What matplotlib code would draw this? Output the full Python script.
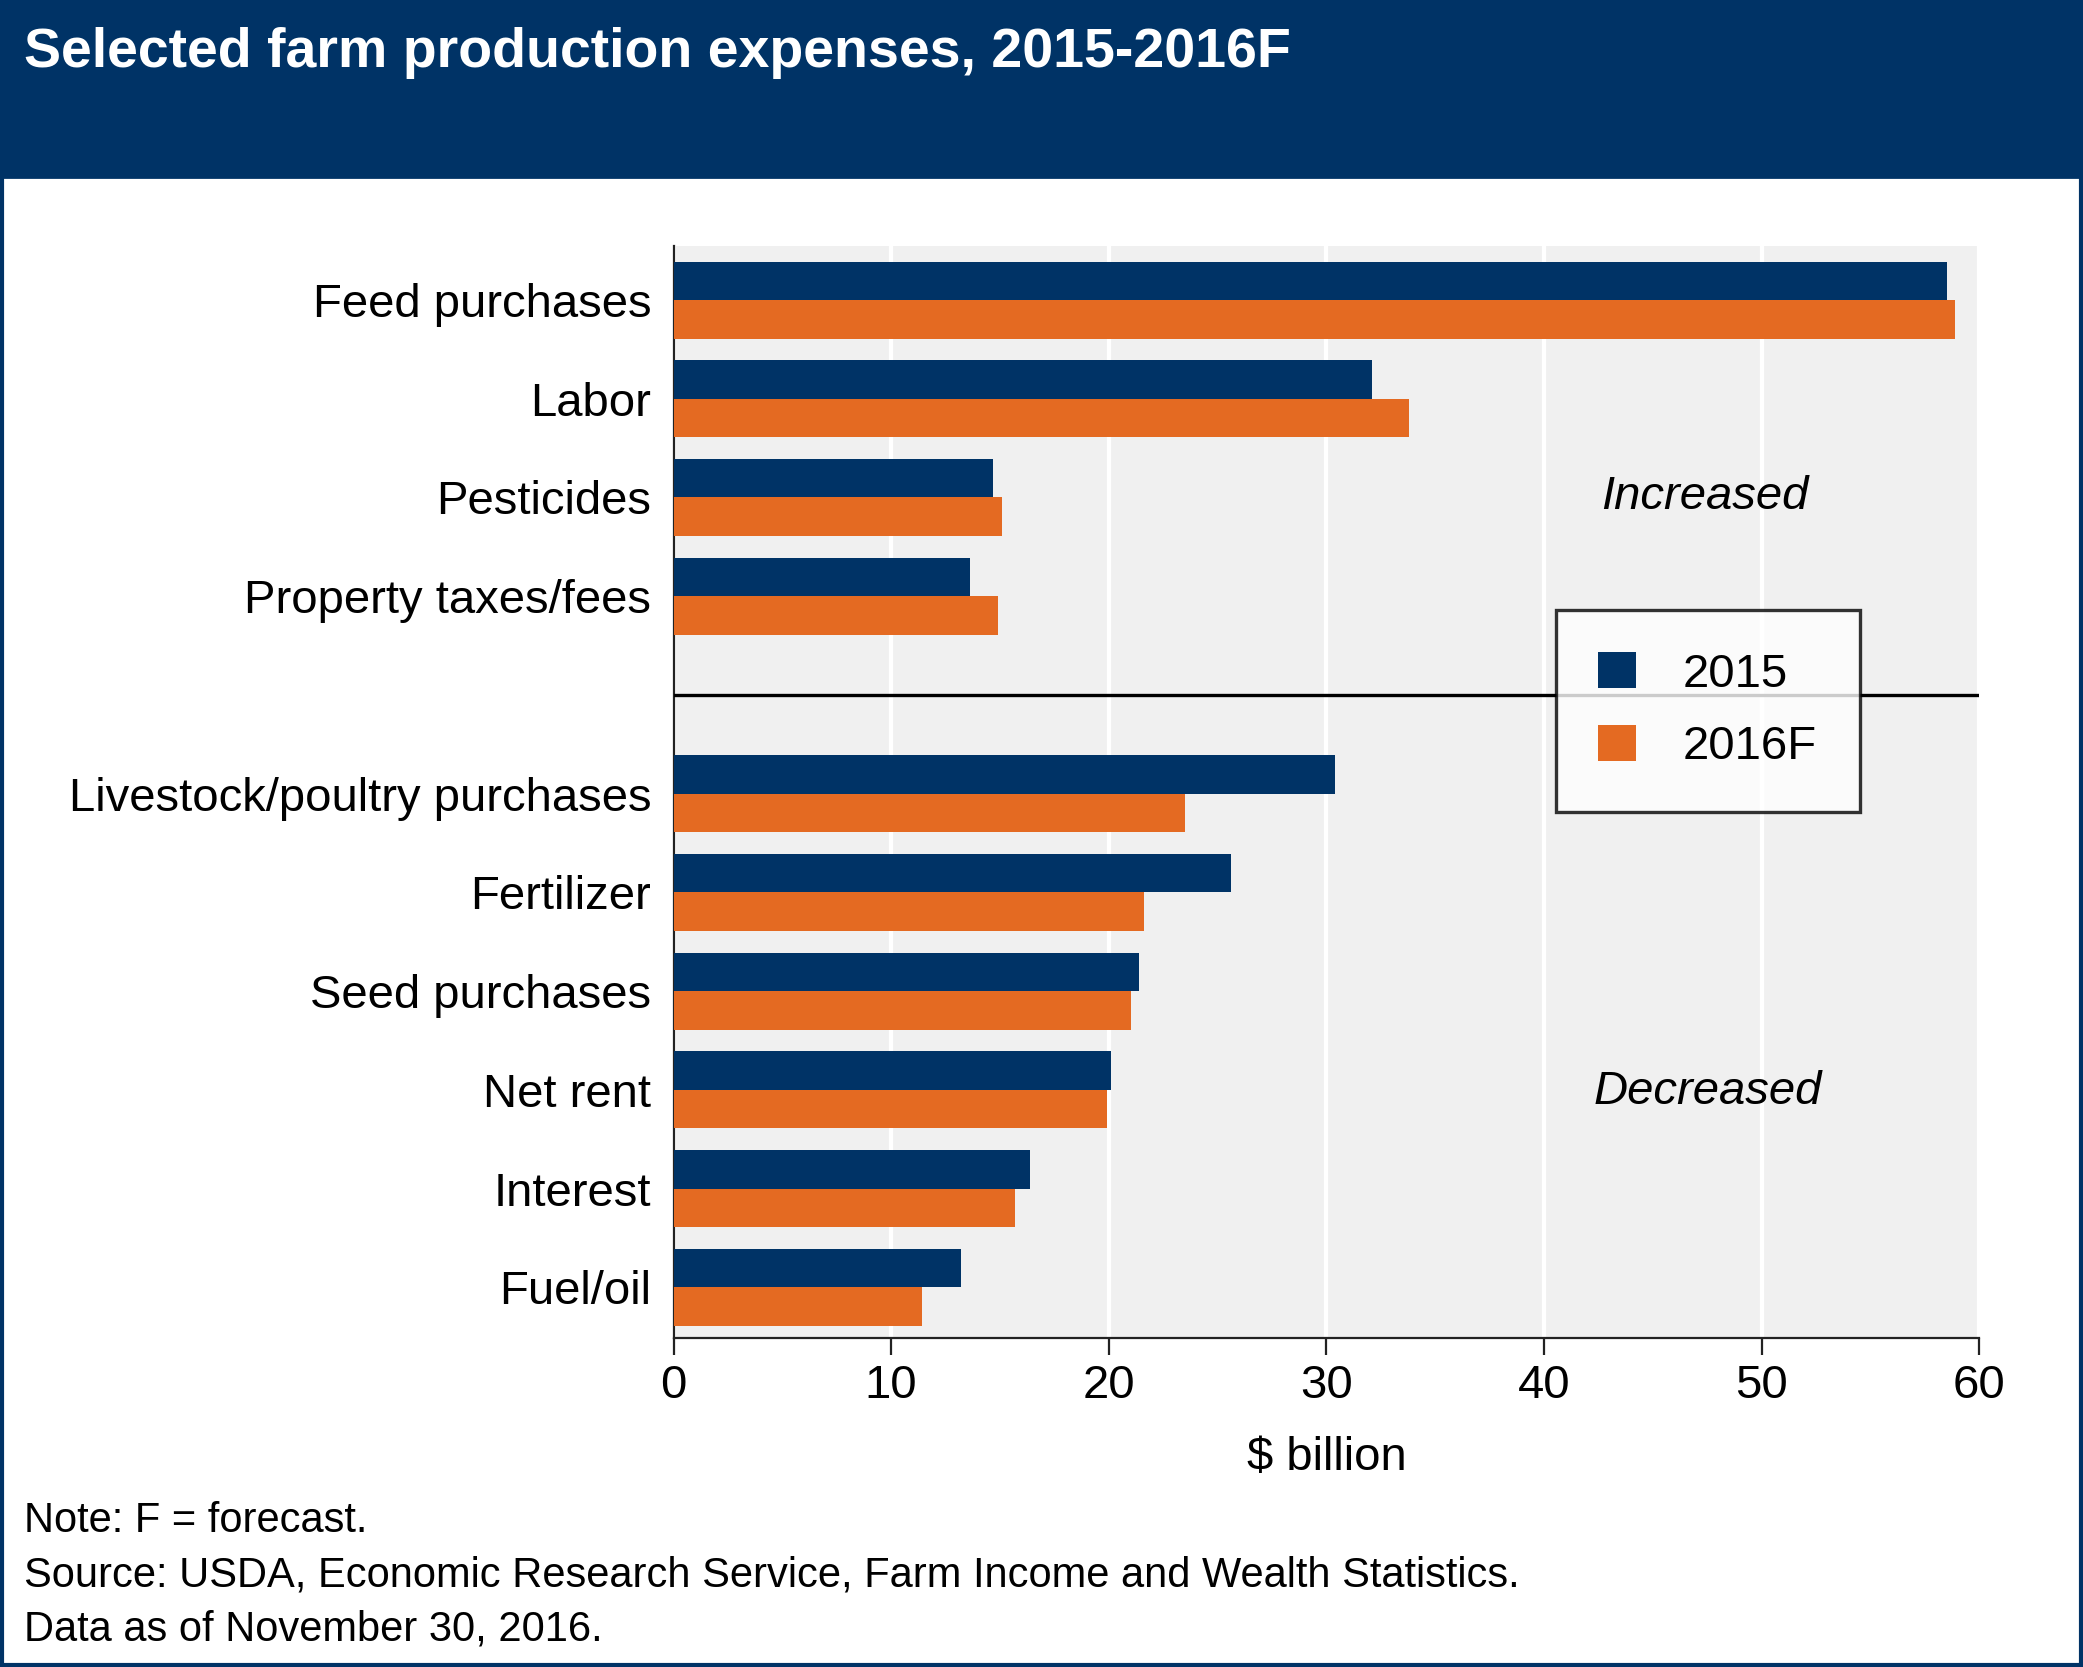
import matplotlib
matplotlib.use("Agg")
import matplotlib.pyplot as plt
from matplotlib.patches import Rectangle
import numpy as np

plt.rcParams['font.family'] = ['Liberation Sans', 'DejaVu Sans']

categories = ["Feed purchases", "Labor", "Pesticides", "Property taxes/fees",
              "Livestock/poultry purchases", "Fertilizer", "Seed purchases",
              "Net rent", "Interest", "Fuel/oil"]
v2015 = [58.5, 32.1, 14.7, 13.6, 30.4, 25.6, 21.4, 20.1, 16.4, 13.2]
v2016 = [58.9, 33.8, 15.1, 14.9, 23.5, 21.6, 21.0, 19.9, 15.7, 11.4]
xticks = [0, 10, 20, 30, 40, 50, 60]

NAVY = '#003366'
ORANGE = '#e46a22'
W, H = 1568, 1255

fig = plt.figure(figsize=(2083/200, 1667/200), dpi=200)
# header band
fig.patches.append(Rectangle((0, 1-133/H), 1, 133/H, transform=fig.transFigure,
                             color=NAVY, zorder=0))
fig.patches.append(Rectangle((0.001, 0.001), 0.998, 0.998, transform=fig.transFigure,
                             fill=False, edgecolor=NAVY, lw=1.5, zorder=5))
fig.text(18/W, 1-40/H, "Selected farm production expenses, 2015-2016F", color='white',
         fontsize=20, fontweight='bold', va='center', ha='left')

ax = fig.add_axes([507/W, 1-1007/H, (1490-507)/W, (1007-185)/H])
ax.set_facecolor('#f0f0f0')
pos = np.array([0, 1, 2, 3, 5, 6, 7, 8, 9, 10], dtype=float)
h = 0.39
ax.barh(pos - h/2, v2015, height=h, color=NAVY, label='2015', zorder=3)
ax.barh(pos + h/2, v2016, height=h, color=ORANGE, label='2016F', zorder=3)
ax.set_yticks(pos)
ax.set_yticklabels(categories, fontsize=17)
ax.set_ylim(10.51, -0.55)
ax.set_xlim(0, 60)
ax.set_xticks(xticks)
ax.set_xticklabels([str(t) for t in xticks], fontsize=17)
ax.xaxis.grid(True, color='white', lw=1.5, zorder=1)
ax.set_axisbelow(True)
ax.tick_params(axis='y', length=0, pad=8)
ax.tick_params(axis='x', direction='out', length=6, color='#222222')
for s in ['top', 'right']:
    ax.spines[s].set_visible(False)
for s in ['left', 'bottom']:
    ax.spines[s].set_color('#222222')
ax.axhline(4, color='black', lw=1.2, zorder=4)
ax.set_xlabel("$ billion", fontsize=17, labelpad=10)
ax.text(47.4, 2.0, "Increased", style='italic', fontsize=17, ha='center', va='center')
ax.text(47.5, 8.02, "Decreased", style='italic', fontsize=17, ha='center', va='center')
leg = ax.legend(loc='upper left', bbox_to_anchor=((1171-507)/(1490-507), 1-(459-185)/(1007-185)),
                fontsize=17, frameon=True, fancybox=False, edgecolor='black',
                handlelength=0.8, handleheight=0.8, borderpad=0.9, labelspacing=0.6,
                borderaxespad=0, handletextpad=1.0)
leg.get_frame().set_linewidth(1.2)
leg.set_zorder(6)
for bt, t in enumerate(leg.get_texts()):
    pass
# fix legend width
fig.canvas.draw()

notes = ["Note: F = forecast.",
         "Source: USDA, Economic Research Service, Farm Income and Wealth Statistics.",
         "Data as of November 30, 2016."]
for i, n in enumerate(notes):
    fig.text(18/W, 1-(1145+41*i)/H, n, fontsize=15, va='center', ha='left')

fig.savefig("out.png", dpi=200)
